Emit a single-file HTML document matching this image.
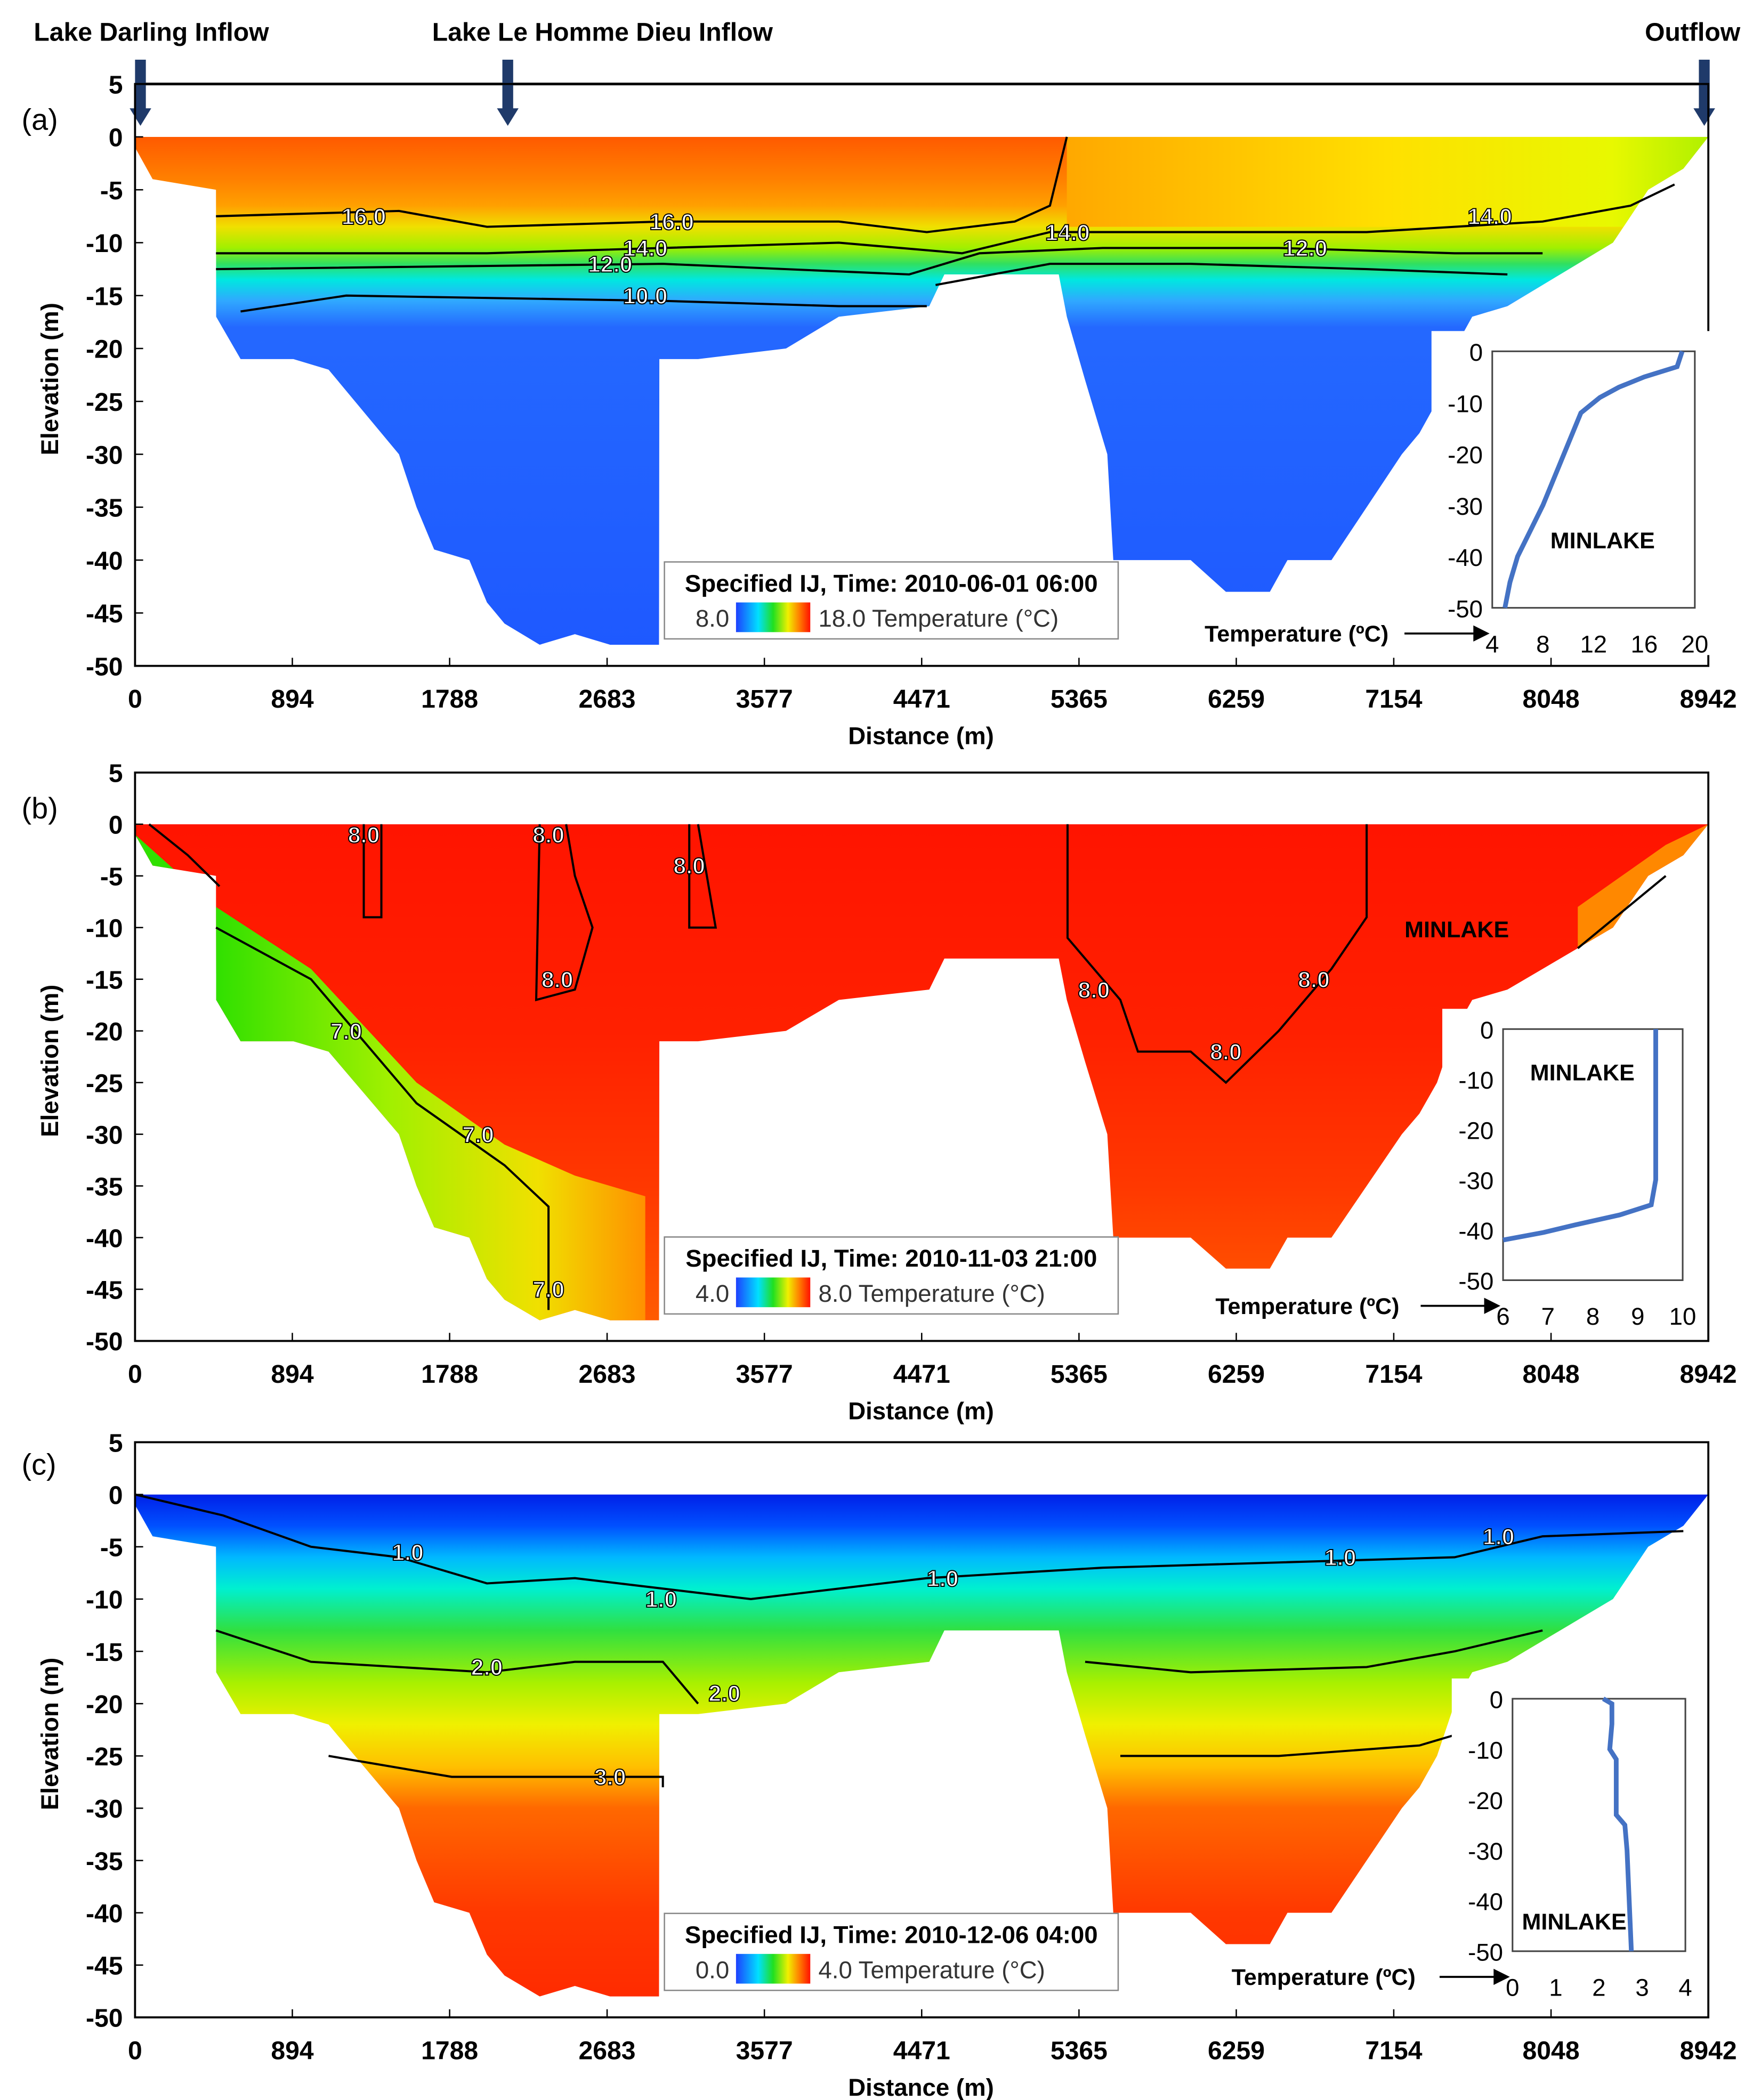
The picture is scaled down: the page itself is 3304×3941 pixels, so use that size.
<!DOCTYPE html>
<html><head><meta charset="utf-8"><style>
html,body{margin:0;padding:0;background:#fff}
svg{display:block}
text{font-family:"Liberation Sans",Arial,sans-serif}
</style></head><body>
<svg id="fig" xmlns="http://www.w3.org/2000/svg" width="3304" height="3941" viewBox="0 0 1304 1555">
<defs>
<linearGradient id="cbar" x1="0" x2="1" y1="0" y2="0">
<stop offset="0" stop-color="#1e40ff"/><stop offset="0.3" stop-color="#00e0ff"/><stop offset="0.5" stop-color="#20e020"/><stop offset="0.7" stop-color="#f0f000"/><stop offset="0.85" stop-color="#ff8000"/><stop offset="1" stop-color="#ff1000"/></linearGradient>
</defs>
<g id="root"></g>
</svg>
<script>
const NS="http://www.w3.org/2000/svg";
const root=document.getElementById('root');
// ---------- data ----------
const xTicks=[0,894,1788,2683,3577,4471,5365,6259,7154,8048,8942];
const yTicks=[5,0,-5,-10,-15,-20,-25,-30,-35,-40,-45,-50];
const bathyDist=[0,100,460,461,600,900,1100,1300,1500,1600,1700,1900,2000,2100,2300,2500,2700,2978,2980,3200,3700,4000,4514,4600,5000,5250,5296,5400,5526,5560,6000,6200,6450,6550,6800,7000,7200,7300,7400,7500,7600,7800,8000,8200,8400,8600,8800,8942];
const bathyElev=[-1,-4,-5,-17,-21,-21,-22,-26,-30,-35,-39,-40,-44,-46,-48,-47,-48,-48,-21,-21,-20,-17,-16,-13,-13,-13,-17,-23,-30,-40,-40,-43,-43,-40,-40,-35,-30,-28,-25,-20,-17,-16,-14,-12,-10,-5,-3,0];
const times=["2010-06-01 06:00","2010-11-03 21:00","2010-12-06 04:00"];
const cbMin=["8.0","4.0","0.0"], cbMax=["18.0","8.0","4.0"];
const insetXTicks=[[4,8,12,16,20],[6,7,8,9,10],[0,1,2,3,4]];
const insetYTicks=[0,-10,-20,-30,-40,-50];
const profA_T=[19,18.6,16,14,12.5,11,10,9,8,7,6,5.4,5];
const profA_E=[0,-3,-5,-7,-9,-12,-18,-24,-30,-35,-40,-45,-50];
const profB_T=[9.4,9.4,9.4,9.3,8.6,7.6,6.9,6];
const profB_E=[0,-10,-30,-35,-37,-39,-40.5,-42];
const profC_T=[2.1,2.3,2.3,2.25,2.4,2.4,2.6,2.65,2.7,2.75];
const profC_E=[0,-1,-5,-10,-12,-23,-25,-30,-40,-50];
const contA=[
 {lab:"16.0",d:[460,1500,2000,3000,4000,4500,5000,5200,5296],e:[-7.5,-7,-8.5,-8,-8,-9,-8,-6.5,0],at:[[1300,-7.5],[3050,-8]]},
 {lab:"14.0",d:[460,2000,4000,4700,5200,6000,7000,8000,8500,8750],e:[-11,-11,-10,-11,-9,-9,-9,-8,-6.5,-4.5],at:[[2900,-10.5],[5300,-9],[7700,-7.5]]},
 {lab:"12.0",d:[460,3000,4400,4800,5500,6500,7500,8000],e:[-12.5,-12,-13,-11,-10.5,-10.5,-11,-11],at:[[2700,-12],[6650,-10.5]]},
 {lab:"10.0",d:[600,1200,3000,4000,4500],e:[-16.5,-15,-15.5,-16,-16],at:[[2900,-15]]},
 {lab:"",d:[4550,5200,6000,7000,7800],e:[-14,-12,-12,-12.5,-13],at:[[6950,-12]]}
];
const contB=[
 {lab:"7.0",d:[460,1000,1600,2100,2350,2350],e:[-10,-15,-27,-33,-37,-47],at:[[1200,-20],[1950,-30],[2350,-45]]},
 {lab:"",d:[80,300,480],e:[0,-3,-6],at:[]},
 {lab:"8.0",d:[1300,1300,1400,1400],e:[0,-9,-9,0],at:[[1300,-1]]},
 {lab:"8.0",d:[2300,2280,2500,2600,2500,2450],e:[0,-17,-16,-10,-5,0],at:[[2350,-1],[2400,-15]]},
 {lab:"8.0",d:[3150,3150,3300,3200],e:[0,-10,-10,0],at:[[3150,-4]]},
 {lab:"8.0",d:[5300,5300,5600,5700,6000,6200,6500,6800,7000,7000],e:[0,-11,-17,-22,-22,-25,-20,-14,-9,0],at:[[5450,-16],[6200,-22],[6700,-15]]},
 {lab:"",d:[8200,8700],e:[-12,-5],at:[]}
];
const contC=[
 {lab:"1.0",d:[0,500,1000,1500,2000,2500,3000,3500,4000,4500,5500,6500,7500,8000,8800],e:[0,-2,-5,-6,-8.5,-8,-9,-10,-9,-8,-7,-6.5,-6,-4,-3.5],at:[[1550,-5.5],[2990,-10],[4590,-8],[6850,-6],[7750,-4]]},
 {lab:"2.0",d:[460,1000,2000,2500,3000,3200],e:[-13,-16,-17,-16,-16,-20],at:[[2000,-16.5],[3350,-19]]},
 {lab:"",d:[5400,6000,7000,7500,8000],e:[-16,-17,-16.5,-15,-13],at:[[6900,-16]]},
 {lab:"3.0",d:[1100,1800,2500,3000,3000],e:[-25,-27,-27,-27,-28],at:[[2700,-27]]},
 {lab:"",d:[5600,6500,7300,7500],e:[-25,-25,-24,-23],at:[[7000,-24]]}
];
// ---------- helpers ----------
function el(tag,attrs,parent,text){const e=document.createElementNS(NS,tag);for(const k in attrs)e.setAttribute(k,attrs[k]);if(text!==undefined)e.textContent=text;(parent||root).appendChild(e);return e;}
const X=d=>100+d/8942*1165;
const panels=[
 {top:62,bot:493,lbl:"(a)",ly:88},
 {top:572,bot:993,lbl:"(b)",ly:598},
 {top:1068,bot:1494,lbl:"(c)",ly:1084}
];
panels.forEach(p=>{p.k=(p.bot-p.top)/55;p.Y=e=>p.top+(5-e)*p.k;});
const grads=[
 [[0,"#ff5a00"],[-4,"#ff8000"],[-6.5,"#ffa000"],[-8.5,"#f0e000"],[-10.5,"#a0f000"],[-12,"#30e060"],[-13.5,"#00e8e0"],[-15.5,"#30a8ff"],[-18,"#2468ff"],[-50,"#1e58ff"]],
 [[0,"#ff1400"],[-20,"#ff2000"],[-35,"#ff3800"],[-50,"#ff6000"]],
 [[0,"#0020e8"],[-3,"#0050ff"],[-6,"#00b8ff"],[-9,"#00f0d0"],[-13,"#30e040"],[-18,"#a8f000"],[-22,"#f0f000"],[-26,"#ffc000"],[-30,"#ff6800"],[-40,"#ff3800"],[-50,"#ff2800"]]
];
const defs=document.querySelector('defs');
// top annotations
el('text',{x:25,y:30,'font-size':19,'font-weight':'bold',},root,"Lake Darling Inflow");
el('text',{x:320,y:30,'font-size':19,'font-weight':'bold',},root,"Lake Le Homme Dieu Inflow");
el('text',{x:1218,y:30,'font-size':19,'font-weight':'bold',},root,"Outflow");
el('line',{x1:100,x2:1264,y1:62,y2:62,stroke:'#000','stroke-width':2,});
[104,376,1262].forEach((x,i)=>{
 const g=el('g',{});
 
 
 el('rect',{x:x-4,y:44,width:8,height:38,fill:'#1f3a6a'},g);
 el('polygon',{points:`${x-8},80 ${x+8},80 ${x},93`,fill:'#1f3a6a'},g);
});
panels.forEach((p,pi)=>{
 const Y=p.Y;
 const g=el('g',{});
 
 
 el('text',{x:16,y:p.ly+8,'font-size':22,},g,p.lbl);
 // gradient
 const lg=el('linearGradient',{id:'tg'+pi,gradientUnits:'userSpaceOnUse',x1:0,x2:0,y1:Y(0),y2:Y(-50)},defs);
 grads[pi].forEach(s=>el('stop',{offset:(-s[0]/50).toFixed(3),'stop-color':s[1]},lg));
 const cp=el('clipPath',{id:'cp'+pi},defs);
 let pts=bathyDist.map((d,i)=>X(d)+","+Y(bathyElev[i]));
 pts.push(X(8942)+","+Y(0));pts.push(X(0)+","+Y(0));
 el('polygon',{points:pts.join(" ")},cp);
 const field=el('g',{'clip-path':`url(#cp${pi})`},g);
 
 
 el('rect',{x:X(0),y:Y(0),width:1165,height:Y(-50)-Y(0),fill:`url(#tg${pi})`},field);
 if(pi===0){
  const h=el('linearGradient',{id:'ha',gradientUnits:'userSpaceOnUse',x1:X(5296),x2:X(8942),y1:0,y2:0},defs);
  [[0,"#ffa800"],[0.5,"#ffe000"],[0.85,"#e8f800"],[1,"#b0f000"]].forEach(s=>el('stop',{offset:s[0],'stop-color':s[1]},h));
  el('rect',{x:X(5296),y:Y(0),width:X(8942)-X(5296),height:Y(-8.5)-Y(0),fill:'url(#ha)'},field);
 }
 if(pi===1){
  const h=el('linearGradient',{id:'hb',gradientUnits:'userSpaceOnUse',x1:X(460),x2:X(2900),y1:0,y2:0},defs);
  [[0,"#30e000"],[0.4,"#a0f000"],[0.75,"#f0e000"],[1,"#ff9000"]].forEach(s=>el('stop',{offset:s[0],'stop-color':s[1]},h));
  const q=[[0,-1],[460,-8],[1000,-14],[1600,-25],[2100,-31],[2500,-34],[2900,-36],[2900,-50],[0,-50]];
  el('polygon',{points:q.map(a=>X(a[0])+","+Y(a[1])).join(" "),fill:'url(#hb)'},field);
  const q2=[[8200,-8],[8700,-2],[8942,0],[8942,-20],[8200,-20]];
  el('polygon',{points:q2.map(a=>X(a[0])+","+Y(a[1])).join(" "),fill:'#ff8800'},field);
 }
 // contours
 const conts=[contA,contB,contC][pi];
 conts.forEach(c=>{
  const pl=el('polyline',{points:c.d.map((d,i)=>X(d)+","+Y(c.e[i])).join(" "),fill:'none',stroke:'#000','stroke-width':1.6},g);
  
  
  if(c.lab)c.at.forEach(a=>{
   const t=el('text',{x:X(a[0]),y:Y(a[1])+6,'font-size':17,'font-weight':'bold',fill:'#fff',stroke:'#000','stroke-width':0.8,'text-anchor':'middle'},g,c.lab);
   
   
  });
 });
 // frame
 el('rect',{x:100,y:p.top,width:1165,height:p.bot-p.top,fill:'none',stroke:'#000','stroke-width':1.5,},g);
 yTicks.forEach(v=>{
  el('line',{x1:100,x2:106,y1:Y(v),y2:Y(v),stroke:'#000'},g);
  const t=el('text',{x:91,y:Y(v)+7,'font-size':19,'font-weight':'bold','text-anchor':'end'},g,String(v));
  
  
 });
 xTicks.forEach(v=>{
  el('line',{x1:X(v),x2:X(v),y1:p.bot,y2:p.bot-6,stroke:'#000'},g);
  const t=el('text',{x:X(v),y:p.bot+31,'font-size':19,'font-weight':'bold','text-anchor':'middle'},g,String(v));
  
  
 });
 el('text',{x:682,y:p.bot+58,'font-size':18,'font-weight':'bold','text-anchor':'middle',},g,"Distance (m)");
 const yt=el('text',{x:0,y:0,'font-size':18,'font-weight':'bold','text-anchor':'middle',transform:`translate(43,${(p.top+p.bot)/2+3}) rotate(-90)`},g,"Elevation (m)");
 
 
 // legend box
 const lb=el('g',{},g);
 
 
 const by=p.bot-77;
 el('rect',{x:492,y:by,width:336,height:57,fill:'#fff',stroke:'#888','stroke-width':1},lb);
 el('text',{x:660,y:by+22,'font-size':18,'font-weight':'bold','text-anchor':'middle'},lb,"Specified IJ, Time: "+times[pi]);
 el('text',{x:540,y:by+48,'font-size':18,fill:'#333','text-anchor':'end'},lb,cbMin[pi]);
 el('rect',{x:545,y:by+30,width:55,height:22,fill:'url(#cbar)'},lb);
 el('text',{x:606,y:by+48,'font-size':18,fill:'#333'},lb,cbMax[pi]+"  Temperature (°C)");
});
// insets
const insets=[
 {x0:1105,x1:1255,y0:260,y1:450,tmin:4,tmax:20,T:profA_T,E:profA_E,lab:[1148,406],arrX:1040,txtX:892},
 {x0:1113,x1:1246,y0:762,y1:948,tmin:6,tmax:10,T:profB_T,E:profB_E,lab:[1133,800],arrX:1052,txtX:900},
 {x0:1120,x1:1248,y0:1258,y1:1445,tmin:0,tmax:4,T:profC_T,E:profC_E,lab:[1127,1429],arrX:1066,txtX:912}
];
insets.forEach((s,i)=>{
 const g=el('g',{});
 
 
 const IX=t=>s.x0+(t-s.tmin)/(s.tmax-s.tmin)*(s.x1-s.x0);
 const IY=e=>s.y0+(-e)/50*(s.y1-s.y0);
 el('rect',{x:s.x0-45,y:s.y0-15,width:s.x1-s.x0+60,height:s.y1-s.y0+50,fill:'#fff'},g);
 el('rect',{x:s.x0,y:s.y0,width:s.x1-s.x0,height:s.y1-s.y0,fill:'none',stroke:'#444','stroke-width':1.2},g);
 insetYTicks.forEach(v=>{el('text',{x:s.x0-7,y:IY(v)+7,'font-size':18,'text-anchor':'end'},g,String(v));});
 insetXTicks[i].forEach(v=>{el('text',{x:IX(v),y:s.y1+33,'font-size':18,'text-anchor':'middle'},g,String(v));});
 const pl=el('polyline',{points:s.T.map((t,j)=>IX(t)+","+IY(s.E[j])).join(" "),fill:'none',stroke:'#4472c4','stroke-width':3.5},g);
 
 
 el('text',{x:s.lab[0],y:s.lab[1],'font-size':17,'font-weight':'bold'},g,"MINLAKE");
 el('text',{x:s.txtX,y:s.y1+25,'font-size':17,'font-weight':'bold'},g,"Temperature (ºC)");
 el('line',{x1:s.arrX,x2:s.x0-12,y1:s.y1+19,y2:s.y1+19,stroke:'#000','stroke-width':1.5},g);
 el('polygon',{points:`${s.x0-14},${s.y1+13} ${s.x0-2},${s.y1+19} ${s.x0-14},${s.y1+25}`,fill:'#000'},g);
});
el('text',{x:1040,y:694,'font-size':17,'font-weight':'bold',},root,"MINLAKE");
</script>
</body></html>
